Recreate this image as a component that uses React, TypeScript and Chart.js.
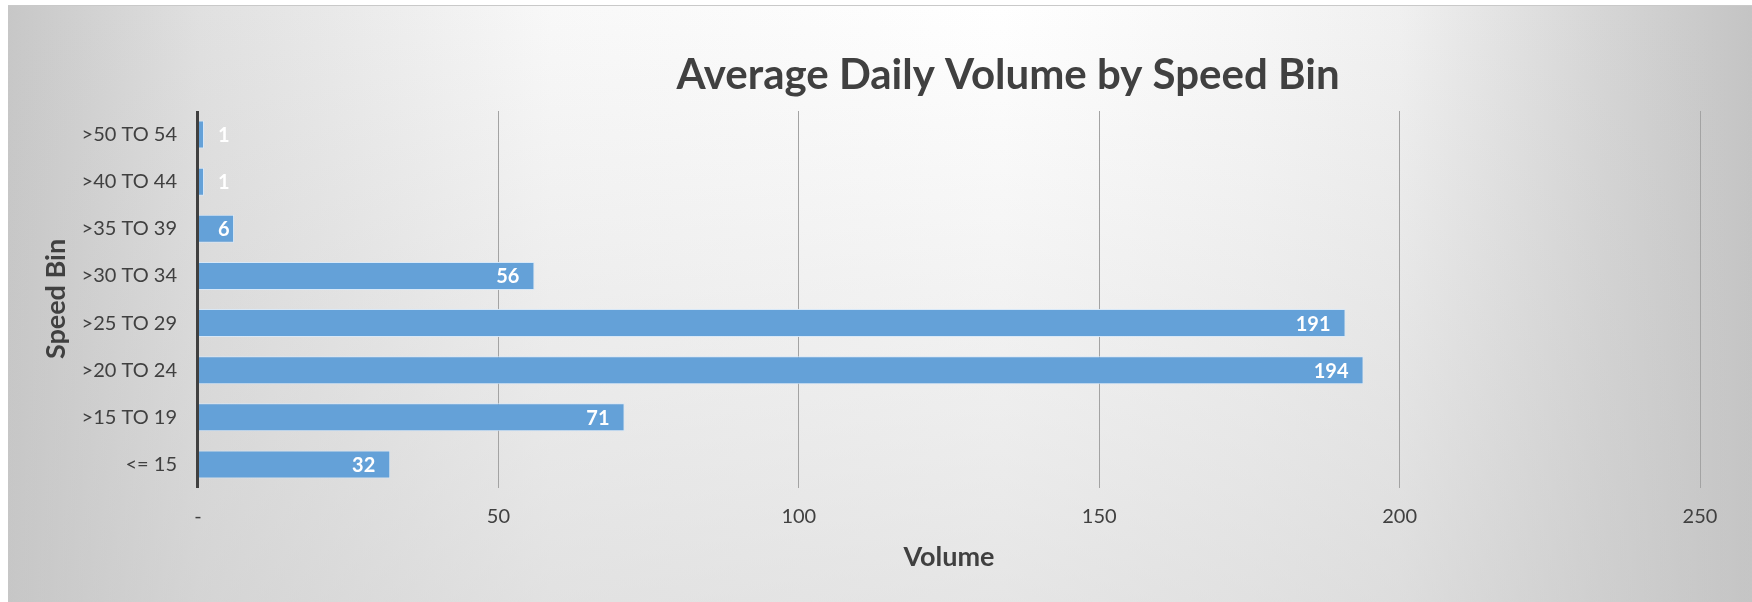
import React, { useEffect, useRef } from "react";
import { Chart, registerables } from "chart.js";

Chart.register(...registerables);

const categories = [">50 TO 54", ">40 TO 44", ">35 TO 39", ">30 TO 34", ">25 TO 29", ">20 TO 24", ">15 TO 19", "<= 15"];
const volumes = [1, 1, 6, 56, 191, 194, 71, 32];
const xMin = 0;
const xMax = 250;
const xStep = 50;
const chartTitle = "Average Daily Volume by Speed Bin";
const xTitle = "Volume";
const yTitle = "Speed Bin";

const W = 1744;
const H = 596;

export default function App() {
  const ref = useRef<HTMLCanvasElement | null>(null);

  useEffect(() => {
    const canvas = ref.current;
    if (!canvas) return;

    const bgPlugin = {
      id: "bgFill",
      beforeDraw(chart: any) {
        const ctx = chart.ctx as CanvasRenderingContext2D;
        ctx.save();
        const g = ctx.createLinearGradient(0, 0, W, 0);
        g.addColorStop(0, "#c7c7c7");
        g.addColorStop(192 / W, "#e0e0e0");
        g.addColorStop(542 / W, "#f8f8f8");
        g.addColorStop(992 / W, "#ffffff");
        g.addColorStop(1242 / W, "#f7f7f7");
        g.addColorStop(1392 / W, "#f0f0f0");
        g.addColorStop(1592 / W, "#d6d6d6");
        g.addColorStop(1, "#c4c4c4");
        ctx.fillStyle = g;
        ctx.fillRect(0, 0, W, H);
        const v = ctx.createLinearGradient(0, 0, 0, H);
        v.addColorStop(0, "rgba(198,198,198,0)");
        v.addColorStop(1, "rgba(198,198,198,0.45)");
        ctx.fillStyle = v;
        ctx.fillRect(0, 0, W, H);
        ctx.restore();
      },
    };

    const overlayPlugin = {
      id: "overlay",
      afterDatasetsDraw(chart: any) {
        const ctx = chart.ctx as CanvasRenderingContext2D;
        const ca = chart.chartArea;
        ctx.save();
        // category axis line
        ctx.strokeStyle = "#404040";
        ctx.lineWidth = 3;
        ctx.beginPath();
        ctx.moveTo(ca.left - 0.5, ca.top);
        ctx.lineTo(ca.left - 0.5, ca.bottom);
        ctx.stroke();

        // data labels
        const meta = chart.getDatasetMeta(0);
        ctx.font = "bold 20px Lato";
        ctx.fillStyle = "#ffffff";
        ctx.textAlign = "right";
        ctx.textBaseline = "middle";
        meta.data.forEach((bar: any, i: number) => {
          const txt = String(volumes[i]);
          const w = ctx.measureText(txt).width;
          const right = Math.max(bar.x - 15, ca.left + 20 + w);
          ctx.fillText(txt, right, bar.y + 1);
        });

        // titles
        ctx.fillStyle = "#404040";
        ctx.textBaseline = "alphabetic";
        ctx.textAlign = "center";
        ctx.font = "bold 42px Lato";
        ctx.fillText(chartTitle, 1000, 83);
        ctx.font = "bold 27px Lato";
        ctx.fillText(xTitle, (ca.left + ca.right) / 2, 560);
        ctx.translate(57, 293);
        ctx.rotate(-Math.PI / 2);
        ctx.fillText(yTitle, 0, 0);
        ctx.restore();
      },
    };

    const chart = new Chart(canvas, {
      type: "bar",
      data: {
        labels: categories,
        datasets: [
          {
            data: volumes,
            backgroundColor: "#64a1d8",
            borderColor: "rgba(215,232,248,0.95)",
            borderWidth: 1,
            categoryPercentage: 1,
            barPercentage: 0.595,
          },
        ],
      },
      options: {
        indexAxis: "y",
        responsive: false,
        animation: false,
        devicePixelRatio: 1,
        layout: { padding: { left: 0, top: 105, right: 52, bottom: 64 } },
        plugins: {
          legend: { display: false },
          title: { display: false },
          tooltip: { enabled: false },
        },
        scales: {
          x: {
            min: xMin,
            max: xMax,
            ticks: {
              stepSize: xStep,
              padding: 17,
              color: "#404040",
              font: { family: "Lato", size: 20 },
              callback: (v: any) => (Number(v) === 0 ? "-" : String(v)),
            },
            grid: {
              drawTicks: false,
              lineWidth: 1,
              color: (c: any) => (c.tick && c.tick.value === 0 ? "rgba(0,0,0,0)" : "#a3a3a3"),
            },
            border: { display: false },
            afterFit: (s: any) => {
              s.height = 50;
            },
          },
          y: {
            ticks: {
              padding: 21,
              color: "#404040",
              font: { family: "Lato", size: 20 },
            },
            grid: { display: false, drawTicks: false },
            border: { display: false },
            afterFit: (s: any) => {
              s.width = 190;
            },
          },
        },
      },
      plugins: [bgPlugin, overlayPlugin],
    } as any);

    return () => chart.destroy();
  }, []);

  return (
    <div
      style={{
        position: "absolute",
        left: 8,
        top: 5,
        width: W,
        height: H + 1,
        borderTop: "1px solid #c9c9c9",
        boxSizing: "border-box",
        overflow: "hidden",
      }}
    >
      <canvas ref={ref} width={W} height={H} style={{ display: "block", width: W, height: H }} />
    </div>
  );
}
